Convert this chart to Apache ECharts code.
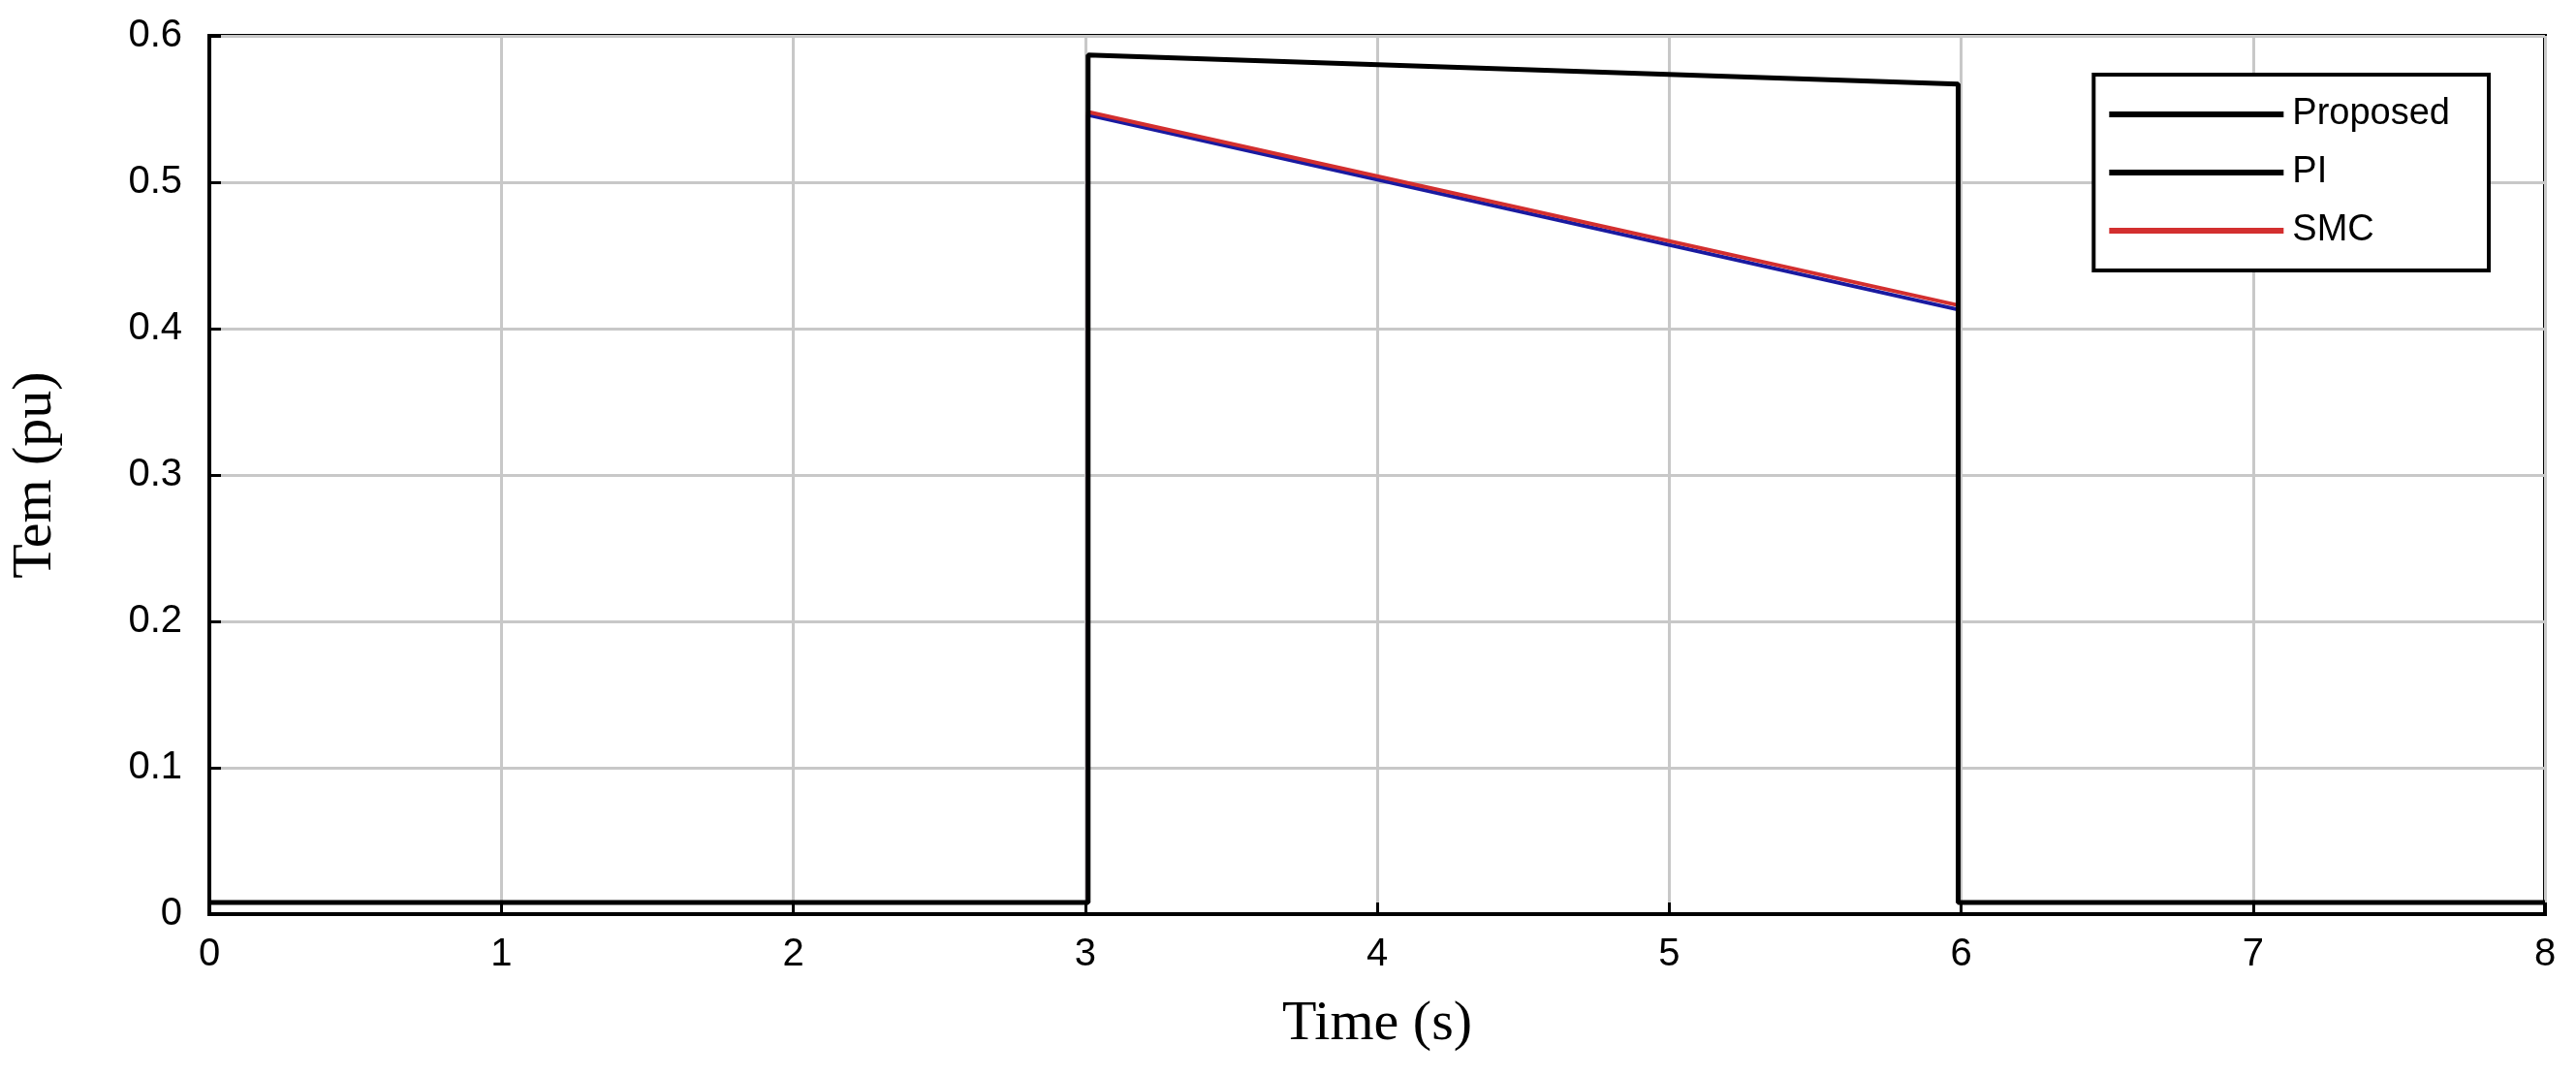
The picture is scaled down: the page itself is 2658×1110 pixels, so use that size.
<!DOCTYPE html>
<html>
<head>
<meta charset="UTF-8">
<title></title>
<style>body{margin:0;background:#fff}</style>
</head>
<body>
<div id="main" style="width:2658px;height:1110px;"></div>
<script src="https://cdn.jsdelivr.net/npm/echarts@6/dist/echarts.min.js"></script>
<script>
// time (s) and torque (pu)
var proposed = [[0, 0.008], [3.01, 0.008], [3.01, 0.587], [5.99, 0.567], [5.99, 0.008], [8, 0.008]];
var pi = [[0, 0.008], [3.01, 0.008], [3.01, 0.546], [5.99, 0.413], [5.99, 0.008], [8, 0.008]];
var smc = [[0, 0.008], [3.01, 0.008], [3.01, 0.548], [5.99, 0.416], [5.99, 0.008], [8, 0.008]];

var chart = echarts.init(document.getElementById('main'));
var axisText = {color: '#000', fontFamily: 'Arial', fontSize: 40};
chart.setOption({
    animation: false,
    grid: {left: 213, right: 32, top: 37, bottom: 167, show: true, borderColor: '#000', borderWidth: 4},
    legend: {
        orient: 'vertical', right: 90, top: 77,
        backgroundColor: '#fff', borderColor: '#000', borderWidth: 4,
        padding: [22, 40, 22, 16], itemGap: 22,
        itemWidth: 180, itemHeight: 6, icon: 'rect',
        textStyle: {color: '#000', fontFamily: 'Arial', fontSize: 38, padding: [0, 0, 0, 4]},
        data: [
            {name: 'Proposed', itemStyle: {color: '#000'}},
            {name: 'PI', itemStyle: {color: '#000'}},
            {name: 'SMC', itemStyle: {color: '#d32f2f'}}
        ]
    },
    xAxis: {
        type: 'value', min: 0, max: 8, interval: 1,
        name: 'Time (s)', nameLocation: 'middle', nameGap: 85,
        nameTextStyle: {color: '#000', fontFamily: 'Liberation Serif', fontSize: 58},
        axisLine: {lineStyle: {color: '#000', width: 4}},
        axisTick: {inside: true, length: 12, lineStyle: {color: '#000', width: 3}},
        axisLabel: Object.assign({margin: 22}, axisText),
        splitLine: {lineStyle: {color: '#c8c8c8', width: 3}}
    },
    yAxis: {
        type: 'value', min: 0, max: 0.6, interval: 0.1,
        name: 'Tem (pu)', nameLocation: 'middle', nameGap: 150,
        nameTextStyle: {color: '#000', fontFamily: 'Liberation Serif', fontSize: 58},
        axisLine: {lineStyle: {color: '#000', width: 4}},
        axisTick: {inside: true, length: 12, lineStyle: {color: '#000', width: 3}},
        axisLabel: Object.assign({margin: 28, formatter: function (v) { return v === 0 ? '0' : v.toFixed(1); }}, axisText),
        splitLine: {lineStyle: {color: '#c8c8c8', width: 3}}
    },
    series: [
        {name: 'Proposed', type: 'line', data: proposed, showSymbol: false, z: 5, lineStyle: {color: '#000', width: 5}},
        {name: 'PI', type: 'line', data: pi, showSymbol: false, z: 3, lineStyle: {color: '#1a1aa0', width: 4}},
        {name: 'SMC', type: 'line', data: smc, showSymbol: false, z: 4, lineStyle: {color: '#d32f2f', width: 4}}
    ]
});
</script>
</body>
</html>
